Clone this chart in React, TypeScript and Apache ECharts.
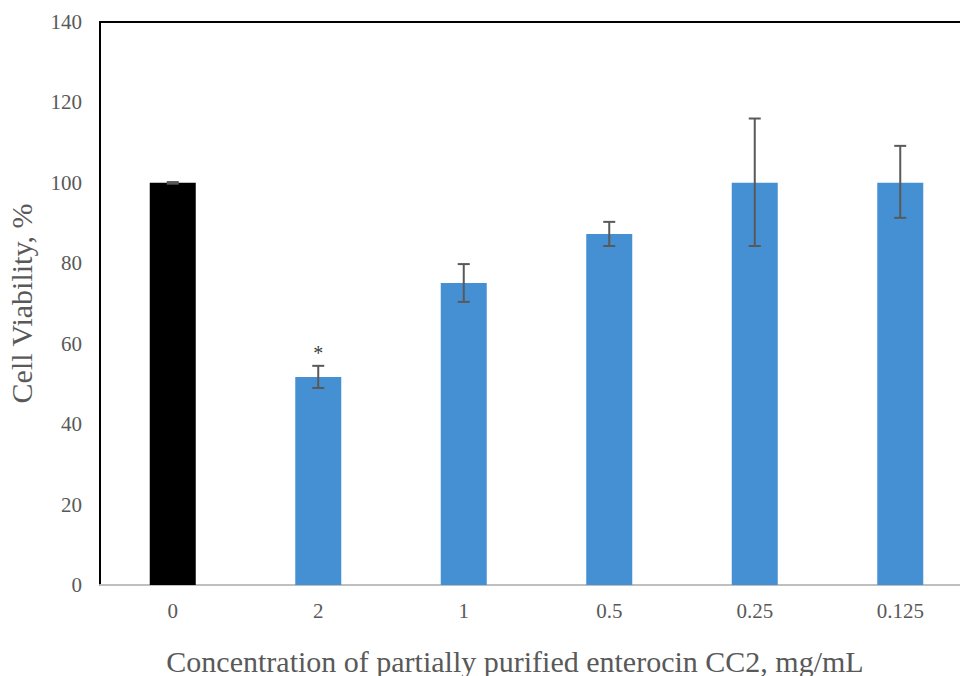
import React, { useEffect, useRef } from "react";
import * as echarts from "echarts";

const categories = ["0", "2", "1", "0.5", "0.25", "0.125"];
const viability = [100, 51.7, 75.1, 87.3, 100, 100];
const errLow = [99.8, 49.0, 70.4, 84.3, 84.3, 91.3];
const errHigh = [100.2, 54.5, 79.8, 90.3, 116.0, 109.2];
const significance = ["", "*", "", "", "", ""];
const yTicks = { min: 0, max: 140, interval: 20 };

const FONT = "'Liberation Serif', 'Times New Roman', serif";
const TEXT = "#595959";

export default function App() {
  const ref = useRef<HTMLDivElement>(null);
  useEffect(() => {
    if (!ref.current) return;
    const chart = echarts.init(ref.current, undefined, { renderer: "svg" });
    const errData = categories.map((_, i) => [i, errLow[i], errHigh[i], significance[i]]);
    chart.setOption({
      animation: false,
      backgroundColor: "#ffffff",
      grid: {
        left: 100,
        top: 22,
        width: 873,
        height: 563,
        containLabel: false,
        outerBoundsMode: "none",
      },
      xAxis: [
        {
          type: "category",
          data: categories,
          axisLine: { show: true, lineStyle: { color: "#bfbfbf", width: 2 } },
          axisTick: { show: false },
          axisLabel: { color: TEXT, fontFamily: FONT, fontSize: 21, margin: 15 },
        },
        {
          type: "category",
          data: categories,
          position: "top",
          axisLine: { show: true, lineStyle: { color: "#000000", width: 2 } },
          axisTick: { show: false },
          axisLabel: { show: false },
        },
      ],
      yAxis: {
        type: "value",
        min: yTicks.min,
        max: yTicks.max,
        interval: yTicks.interval,
        name: "Cell Viability, %",
        nameLocation: "middle",
        nameGap: 64,
        nameTextStyle: { color: TEXT, fontFamily: FONT, fontSize: 30 },
        axisLine: { show: true, lineStyle: { color: "#000000", width: 2 } },
        axisTick: { show: false },
        splitLine: { show: false },
        axisLabel: { color: TEXT, fontFamily: FONT, fontSize: 21, margin: 18 },
      },
      graphic: [
        {
          type: "text",
          x: 515,
          y: 661,
          style: {
            text: "Concentration of partially purified enterocin CC2, mg/mL",
            fill: TEXT,
            font: `30px ${FONT}`,
            align: "center",
            verticalAlign: "middle",
            textAlign: "center",
            textVerticalAlign: "middle",
          },
        },
      ],
      series: [
        {
          type: "bar",
          barWidth: 46,
          data: viability.map((v, i) => ({
            value: v,
            itemStyle: { color: i === 0 ? "#000000" : "#4590D3" },
          })),
        },
        {
          type: "custom",
          data: errData,
          z: 10,
          renderItem: (params: any, api: any) => {
            const x = api.value(0);
            const lo = api.coord([x, api.value(1)]);
            const hi = api.coord([x, api.value(2)]);
            const cap = 6;
            const style = { stroke: "#595959", lineWidth: 2 };
            const children: any[] = [
              { type: "line", shape: { x1: lo[0], y1: lo[1], x2: hi[0], y2: hi[1] }, style },
              { type: "line", shape: { x1: lo[0] - cap, y1: lo[1], x2: lo[0] + cap, y2: lo[1] }, style },
              { type: "line", shape: { x1: hi[0] - cap, y1: hi[1], x2: hi[0] + cap, y2: hi[1] }, style },
            ];
            const sig = significance[params.dataIndex];
            if (sig) {
              children.push({
                type: "text",
                x: hi[0],
                y: hi[1] - 13,
                style: {
                  text: sig,
                  fill: "#404040",
                  font: `20px ${FONT}`,
                  align: "center",
                  verticalAlign: "middle",
                },
              });
            }
            return { type: "group", children };
          },
        },
      ],
    });
    return () => chart.dispose();
  }, []);
  return <div ref={ref} style={{ width: 960, height: 676, position: "absolute", left: 0, top: 0 }} />;
}
